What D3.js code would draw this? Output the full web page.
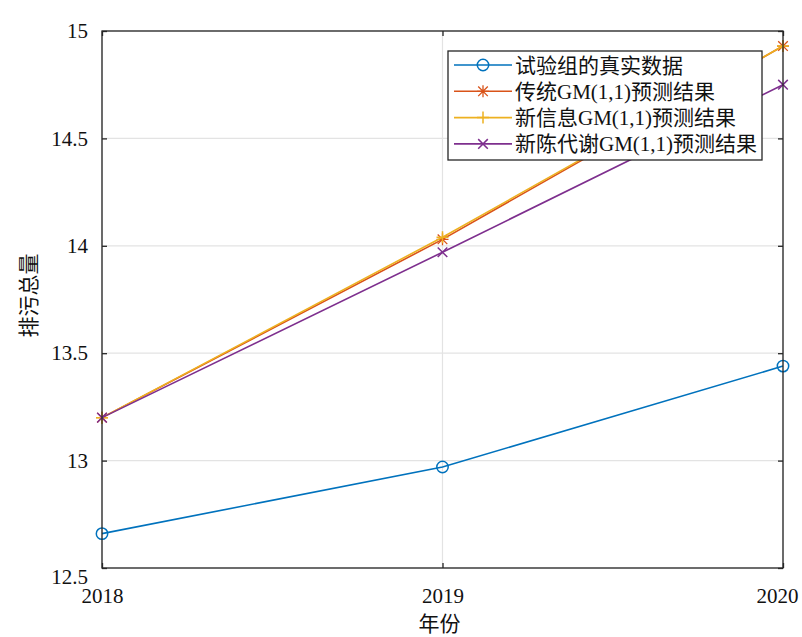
<!DOCTYPE html>
<html>
<head>
<meta charset="utf-8">
<script src="https://cdn.jsdelivr.net/npm/d3@7"></script>
<style>
  html, body { margin: 0; padding: 0; background: #fff; }
  svg text { font-family: "Liberation Serif", "Times New Roman", "Noto Sans CJK SC", serif; fill: #111; }
</style>
</head>
<body>
<svg id="chart" width="802" height="637"></svg>
<script>
// Years on the x axis
const years = [2018, 2019, 2020];
// Emission totals per series
const actualValues = [12.66, 12.97, 13.44];
const traditionalValues = [13.20, 14.03, 14.93];
const newInfoValues = [13.20, 14.04, 14.93];
const metabolicValues = [13.20, 13.97, 14.75];
// Series names
const seriesNames = ["试验组的真实数据", "传统GM(1,1)预测结果", "新信息GM(1,1)预测结果", "新陈代谢GM(1,1)预测结果"];
// Axis ticks
const yTicks = [12.5, 13, 13.5, 14, 14.5, 15];
const xTickLabels = ["2018", "2019", "2020"];
const xTitle = "年份";
const yTitle = "排污总量";

const series = [
  { name: seriesNames[0], values: actualValues, color: "#0072BD", marker: "circle" },
  { name: seriesNames[1], values: traditionalValues, color: "#D95319", marker: "asterisk" },
  { name: seriesNames[2], values: newInfoValues, color: "#EDB120", marker: "plus" },
  { name: seriesNames[3], values: metabolicValues, color: "#7E2F8E", marker: "cross" }
];

const svg = d3.select("#chart");
const margin = { left: 102, right: 19, top: 31, bottom: 69 };
const W = 802, H = 637;
const x = d3.scaleLinear().domain([2018, 2020]).range([margin.left, W - margin.right]);
const y = d3.scaleLinear().domain([12.5, 15]).range([H - margin.bottom, margin.top]);

const axisColor = "#262626";
const fontSize = 21;
const fontStack = "'Liberation Serif', 'Noto Sans CJK SC', serif";

// Grid lines
const grid = svg.append("g");
grid.selectAll(".gy").data(yTicks).join("line")
  .attr("x1", x.range()[0]).attr("x2", x.range()[1])
  .attr("y1", d => y(d)).attr("y2", d => y(d))
  .attr("stroke", "#e3e3e3").attr("stroke-width", 1.2);
grid.selectAll(".gx").data(years).join("line")
  .attr("x1", d => x(d)).attr("x2", d => x(d))
  .attr("y1", y.range()[0]).attr("y2", y.range()[1])
  .attr("stroke", "#e3e3e3").attr("stroke-width", 1.2);

// Markers
function drawMarker(g, type, cx, cy, color, s) {
  if (type === "circle") {
    g.append("circle").attr("cx", cx).attr("cy", cy).attr("r", s * 0.95)
      .attr("fill", "none").attr("stroke", color).attr("stroke-width", 1.5);
  } else if (type === "plus") {
    g.append("path").attr("d", `M${cx - s},${cy}H${cx + s}M${cx},${cy - s}V${cy + s}`)
      .attr("stroke", color).attr("stroke-width", 1.5).attr("fill", "none");
  } else if (type === "cross") {
    const k = s * 0.8;
    g.append("path").attr("d", `M${cx - k},${cy - k}L${cx + k},${cy + k}M${cx - k},${cy + k}L${cx + k},${cy - k}`)
      .attr("stroke", color).attr("stroke-width", 1.5).attr("fill", "none");
  } else if (type === "asterisk") {
    const k = s * 0.8;
    g.append("path").attr("d", `M${cx - s},${cy}H${cx + s}M${cx},${cy - s}V${cy + s}M${cx - k},${cy - k}L${cx + k},${cy + k}M${cx - k},${cy + k}L${cx + k},${cy - k}`)
      .attr("stroke", color).attr("stroke-width", 1.3).attr("fill", "none");
  }
}

// Series lines and markers
const line = d3.line().x((d, i) => x(years[i])).y(d => y(d));
const plot = svg.append("g");
series.forEach(s => {
  plot.append("path").datum(s.values).attr("d", line)
    .attr("fill", "none").attr("stroke", s.color).attr("stroke-width", 1.6);
  const mg = plot.append("g");
  s.values.forEach((v, i) => drawMarker(mg, s.marker, x(years[i]), y(v), s.color, 6));
});

// Axes box
svg.append("rect")
  .attr("x", x.range()[0]).attr("y", y.range()[1])
  .attr("width", x.range()[1] - x.range()[0]).attr("height", y.range()[0] - y.range()[1])
  .attr("fill", "none").attr("stroke", axisColor).attr("stroke-width", 1.3);

// Y axis
const yAxis = d3.axisLeft(y).tickValues(yTicks).tickSizeInner(-5).tickSizeOuter(0).tickPadding(14).tickFormat(d3.format("~g"));
const yg = svg.append("g").attr("transform", `translate(${x.range()[0]},0)`).call(yAxis);
yg.select(".domain").remove();
yg.selectAll(".tick line").attr("stroke", axisColor).attr("stroke-width", 1.3);
yg.selectAll(".tick text").attr("font-size", fontSize).attr("fill", "#111")
  .style("font-family", fontStack)
  .attr("dy", d => d === 12.5 ? "0.72em" : "0.32em");
const yg2 = svg.append("g").attr("transform", `translate(${x.range()[1]},0)`)
  .call(d3.axisRight(y).tickValues(yTicks).tickSizeInner(-5).tickSizeOuter(0).tickFormat(""));
yg2.select(".domain").remove();
yg2.selectAll(".tick line").attr("stroke", axisColor).attr("stroke-width", 1.3);

// X axis
const xAxis = d3.axisBottom(x).tickValues(years).tickSizeInner(-5).tickSizeOuter(0).tickPadding(20)
  .tickFormat((d, i) => xTickLabels[i]);
const xg = svg.append("g").attr("transform", `translate(0,${y.range()[0]})`).call(xAxis);
xg.select(".domain").remove();
xg.selectAll(".tick line").attr("stroke", axisColor).attr("stroke-width", 1.3);
xg.selectAll(".tick text").attr("font-size", fontSize).attr("fill", "#111")
  .style("font-family", fontStack)
  .attr("dx", (d, i) => i === years.length - 1 ? -6 : 0);
const xg2 = svg.append("g").attr("transform", `translate(0,${y.range()[1]})`)
  .call(d3.axisTop(x).tickValues(years).tickSizeInner(-5).tickSizeOuter(0).tickFormat(""));
xg2.select(".domain").remove();
xg2.selectAll(".tick line").attr("stroke", axisColor).attr("stroke-width", 1.3);

// Axis titles
svg.append("text").attr("x", (x.range()[0] + x.range()[1]) / 2 - 3).attr("y", 624)
  .attr("text-anchor", "middle").attr("dominant-baseline", "central").attr("font-size", fontSize)
  .style("font-family", fontStack).text(xTitle);
svg.append("text")
  .attr("transform", `translate(29,${(y.range()[0] + y.range()[1]) / 2 - 4}) rotate(-90)`)
  .attr("text-anchor", "middle").attr("dominant-baseline", "central").attr("font-size", fontSize)
  .style("font-family", fontStack).text(yTitle);

// Legend
const legend = svg.append("g");
const lgX = 448, lgY = 51, lgW = 314, lgH = 109;
legend.append("rect").attr("x", lgX).attr("y", lgY).attr("width", lgW).attr("height", lgH)
  .attr("fill", "#fff").attr("stroke", axisColor).attr("stroke-width", 1.3);
series.forEach((s, i) => {
  const ry = lgY + 14 + i * 26.3;
  legend.append("line").attr("x1", lgX + 6).attr("x2", lgX + 64).attr("y1", ry).attr("y2", ry)
    .attr("stroke", s.color).attr("stroke-width", 1.6);
  drawMarker(legend, s.marker, lgX + 35, ry, s.color, 6);
  legend.append("text").attr("x", lgX + 67).attr("y", ry + 7.5).attr("font-size", fontSize)
    .style("font-family", fontStack).text(s.name);
});
</script>
</body>
</html>
